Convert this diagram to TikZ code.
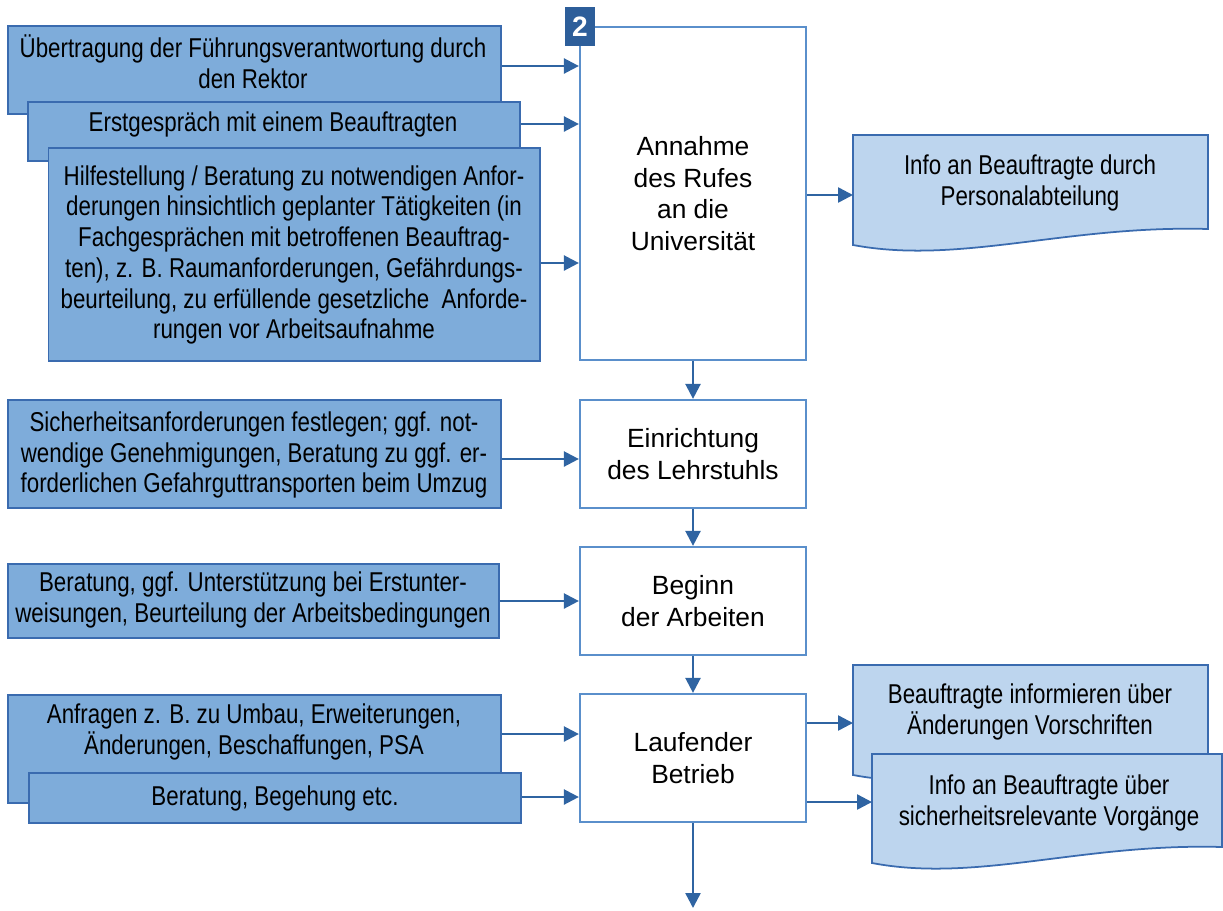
\documentclass[tikz,border=0pt]{standalone}
\usepackage{fontspec}
\setmainfont{Liberation Sans}
\newfontfamily\nar[FakeStretch=0.82]{Liberation Sans}
\usetikzlibrary{arrows.meta,calc}
\definecolor{lfill}{HTML}{7EACDA}
\definecolor{lborder}{HTML}{3A6BAF}
\definecolor{mborder}{HTML}{5A8FCB}
\definecolor{arrc}{HTML}{2F64A2}
\definecolor{rfill}{HTML}{BDD5EE}
\definecolor{badge}{HTML}{2D5E9A}
\begin{document}
\begin{tikzpicture}[x=0.02cm,y=-0.02cm,
  lbox/.style={draw=lborder, fill=lfill, line width=1pt, inner sep=0pt},
  ltext/.style={font=\nar\fontsize{15.5}{17.5}\selectfont, align=center, inner sep=0pt},
  mbox/.style={draw=mborder, fill=white, line width=1.3pt, minimum width=4.52cm, align=center, font=\fontsize{15}{18}\selectfont, inner sep=0pt},
  arr/.style={draw=arrc, line width=1.4pt, -{Triangle[length=0.3cm,width=0.3cm]}},
  rbox/.style={draw=lborder, fill=rfill, line width=1pt},
  rtext/.style={font=\nar\fontsize{15.5}{17.5}\selectfont, align=center, inner sep=0pt},
]
\useasboundingbox (0,0) rectangle (1223,910);

% main column
\node[mbox, minimum height=6.66cm] (m1) at (693,193.5) {Annahme\\des Rufes\\an die\\Universität};
\node[mbox, minimum height=2.16cm] (m2) at (693,454) {Einrichtung\\des Lehrstuhls};
\node[mbox, minimum height=2.16cm] (m3) at (693,601) {Beginn\\der Arbeiten};
\node[mbox, minimum height=2.56cm] (m4) at (693,758) {Laufender\\Betrieb};
\node[fill=badge, minimum width=0.6cm, minimum height=0.78cm, inner sep=0pt, text=white, font=\bfseries\fontsize{16}{16}\selectfont] (n2) at (580,26.5) {2};

% left boxes
\node[lbox, minimum width=9.866cm, minimum height=1.76cm] (a) at (254.4,70) {};
\node[ltext] (ta) at (253,62) {Übertragung der Führungsverantwortung durch\\den Rektor};
\node[lbox, minimum width=9.84cm, minimum height=1.18cm] (b) at (274,131.5) {};
\node[ltext] (tb) at (273,124) {Erstgespräch mit einem Beauftragten};
\node[lbox, minimum width=9.83cm, minimum height=4.26cm] (c) at (294.3,254.5) {};
\node[ltext] (tc) at (294,255) {Hilfestellung / Beratung zu notwendigen Anfor-\\derungen hinsichtlich geplanter Tätigkeiten (in\\Fachgesprächen mit betroffenen Beauftrag-\\ten), z. B. Raumanforderungen, Gefährdungs-\\beurteilung, zu erfüllende gesetzliche\ \ Anforde-\\rungen vor Arbeitsaufnahme};

\node[lbox, minimum width=9.866cm, minimum height=2.16cm] (l2) at (254.4,454) {};
\node[ltext] (tl2) at (254,455) {Sicherheitsanforderungen festlegen; ggf. not-\\wendige Genehmigungen, Beratung zu ggf. er-\\forderlichen Gefahrguttransporten beim Umzug};
\node[lbox, minimum width=9.83cm, minimum height=1.48cm] (l3) at (253.4,601) {};
\node[ltext] (tl3) at (253,600) {Beratung, ggf. Unterstützung bei Erstunter-\\weisungen, Beurteilung der Arbeitsbedingungen};

\node[lbox, minimum width=9.866cm, minimum height=2.16cm] (f) at (254.4,749) {};
\node[ltext] (tf) at (254,732) {Anfragen z. B. zu Umbau, Erweiterungen,\\Änderungen, Beschaffungen, PSA};
\node[lbox, minimum width=9.84cm, minimum height=1.0cm] (g) at (275,798) {};
\node[ltext] (tg) at (275,798) {Beratung, Begehung etc.};

% right document shapes
\path[rbox] (853,135) -- (1208,135) -- (1208,229) .. controls (1066,225) and (959.5,265) .. (853,245) -- cycle;
\node[rtext] (i1) at (1030,183) {Info an Beauftragte durch\\Personalabteilung};
\coordinate (i1w) at (853,195);
\path[rbox] (853,665) -- (1208,665) -- (1208,759) .. controls (1066,755) and (959.5,795) .. (853,775) -- cycle;
\node[rtext] (d) at (1030,712) {Beauftragte informieren über\\Änderungen Vorschriften};
\coordinate (dw) at (853,723);
\path[rbox] (872,754) -- (1222,754) -- (1222,847) .. controls (1082,843) and (977,883) .. (872,863) -- cycle;
\node[rtext] (e) at (1049,803) {Info an Beauftragte über\\sicherheitsrelevante Vorgänge};
\coordinate (ew) at (872,802);

% arrows left -> main
\draw[arr] (a.east |- 0,66) -- (m1.west |- 0,66);
\draw[arr] (b.east |- 0,124) -- (m1.west |- 0,124);
\draw[arr] (c.east |- 0,263) -- (m1.west |- 0,263);
\draw[arr] (l2.east |- 0,459) -- (m2.west |- 0,459);
\draw[arr] (l3.east |- 0,601) -- (m3.west |- 0,601);
\draw[arr] (f.east |- 0,734) -- (m4.west |- 0,734);
\draw[arr] (g.east |- 0,797) -- (m4.west |- 0,797);

% main -> right
\draw[arr] (m1.east |- i1w) -- (i1w);
\draw[arr] (m4.east |- dw) -- (dw);
\draw[arr] (m4.east |- ew) -- (ew);

% vertical
\draw[arr] (m1.south) -- (m2.north);
\draw[arr] (m2.south) -- (m3.north);
\draw[arr] (m3.south) -- (m4.north);
\coordinate (endp) at (693,908);
\draw[arr] (m4.south) -- (endp);
\end{tikzpicture}
\end{document}
